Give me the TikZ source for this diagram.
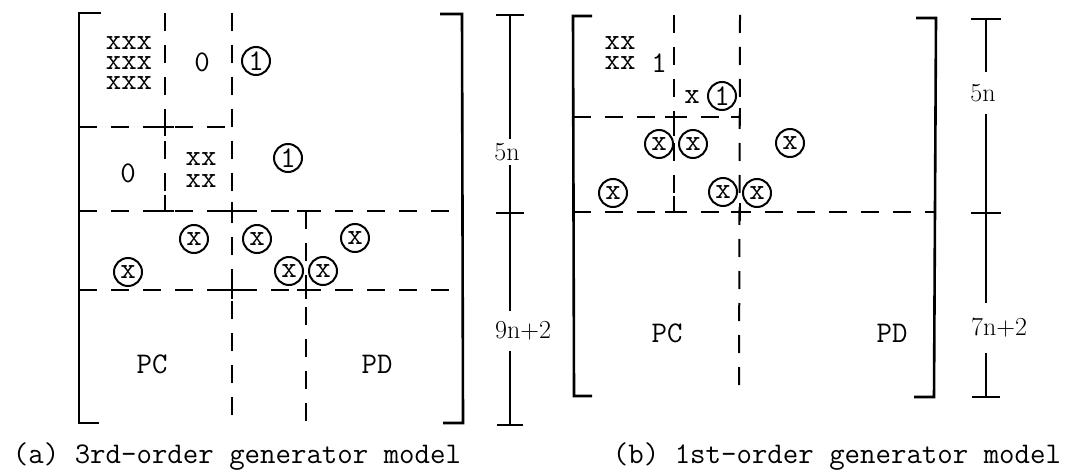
\documentclass[tikz,border=0pt]{standalone}
\usepackage{fontspec}
\usepackage{tikz}
\usetikzlibrary{calc}

\begin{document}
\begin{tikzpicture}[x=1pt,y=-1pt,
		tt/.style={font=\ttfamily\fontsize{30}{36}\selectfont, inner sep=0pt},
		ring/.style={tt, circle, draw, line width=2pt, minimum size=28pt},
		grid/.style={line width=2pt, dash pattern=on 18pt off 14pt},
		bracket/.style={line width=2.6pt},
		dim/.style={line width=2pt},
		dimlab/.style={font=\fontsize{26}{30}\selectfont, inner xsep=0pt}]
		
		\useasboundingbox (0,0) rectangle (1075,473);
		
		% (a) brackets
		\draw[bracket] (101,13) -- (79,13) -- (79,423) -- (99,423);
		\draw[bracket] (440,14) -- (462,14) -- (463,423) -- (443,423);
		
		% (a) partition lines
		\draw[grid] (79,127) -- (233,127);
		\draw[grid] (79,211) -- (462,211);
		\draw[grid] (79,290) -- (462,290);
		\draw[grid] (165,13) -- (165,211);
		\draw[grid] (232,13) -- (232,423);
		\draw[grid] (306,211) -- (306,423);
		
		% (a) solid crossings
		\foreach \p in {(165,127),(232,211),(232,290),(306,290)}
		\draw[dim] \p ++(-9,0) -- ++(18,0) \p ++(0,-9) -- ++(0,18);
		\draw[dim] (165,195) -- (165,211) (156,211) -- (174,211);
		\draw[dim] (306,211) -- (306,228) (297,211) -- (315,211);
		
		% (a) entries
		\foreach \y [count=\i] in {43,63,83}
		\node[tt] (axxx\i) at (129,\y) {xxx};
		\node[tt] (azero) at (202,62) {0};
		\node[ring] (aoneA) at (256,61) {1};
		\node[tt] (azeroB) at (128,173) {0};
		\node[tt] (axx1) at (201,159) {xx};
		\node[tt] (axx2) at (201,181) {xx};
		\node[ring] (aoneB) at (288,158) {1};
		\node[ring] (ax1) at (194,239) {x};
		\node[ring] (ax2) at (257,239) {x};
		\node[ring] (ax3) at (355,238) {x};
		\node[ring] (ax4) at (128,272) {x};
		\node[ring] (ax5) at (289,271) {x};
		\node[ring] (ax6) at (323,271) {x};
		\node[tt] (apc) at (152,364) {PC};
		\node[tt] (apd) at (377,364) {PD};
		
		% (a) dimensions
		\coordinate (atop) at (510,15);
		\coordinate (amid) at (510,213);
		\coordinate (abot) at (510,425);
		\node[dimlab, inner ysep=4pt] (afive) at (507,152) {5n};
		\node[dimlab, inner ysep=10pt] (anine) at (523,331) {9n+2};
		\draw[dim] (atop) ++(-14,0) -- ++(28,0);
		\draw[dim] (amid) ++(-14,0) -- ++(28,0);
		\draw[dim] (abot) ++(-13,0) -- ++(26,0);
		\draw[dim] (atop) -- (atop |- afive.north);
		\draw[dim] (atop |- afive.south) -- (amid) -- (amid |- anine.north);
		\draw[dim] (amid |- anine.south) -- (abot);
		
		\node[tt, anchor=base] (acap) at (237,463) {(a) 3rd-order generator model};
		
		% (b) brackets
		\draw[bracket] (592,16) -- (573,16) -- (574,396) -- (592,396);
		\draw[bracket] (916,18) -- (936,18) -- (934,397) -- (914,397);
		
		% (b) partition lines
		\draw[grid] (573,117) -- (740,117);
		\draw[grid] (573,212) -- (935,212);
		\draw[grid] (674,15) -- (674,212);
		\draw[grid] (740,15) -- (739,396);
		
		% (b) solid crossings
		\draw[dim] (740,203) -- (740,221) (731,212) -- (749,212);
		\draw[dim] (674,117) -- (674,136) (665,117) -- (683,117);
		\draw[dim] (674,196) -- (674,212) (665,212) -- (683,212);
		\draw[dim] (740,108) -- (740,126) (731,117) -- (740,117);
		
		% (b) entries
		\node[tt] (bxx1) at (620,43) {xx};
		\node[tt] (bxx2) at (620,63) {xx};
		\node[tt] (bone) at (659,63) {1};
		\node[tt] (bx) at (692,97) {x};
		\node[ring] (boneA) at (722,96) {1};
		\node[ring] (bx1) at (659,144) {x};
		\node[ring] (bx2) at (693,144) {x};
		\node[ring] (bx3) at (790,143) {x};
		\node[ring] (bx4) at (613,193) {x};
		\node[ring] (bx5) at (723,192) {x};
		\node[ring] (bx6) at (757,193) {x};
		\node[tt] (bpc) at (667,333) {PC};
		\node[tt] (bpd) at (892,333) {PD};
		
		% (b) dimensions
		\coordinate (btop) at (986,19);
		\coordinate (bmid) at (986,213);
		\coordinate (bbot) at (986,397);
		\node[dimlab, inner ysep=12pt] (bfive) at (983,93) {5n};
		\node[dimlab, inner ysep=15pt] (bseven) at (999,328) {7n+2};
		\draw[dim] (btop) ++(-15,0) -- ++(30,0);
		\draw[dim] (bmid) ++(-15,0) -- ++(30,0);
		\draw[dim] (bbot) ++(-14,0) -- ++(28,0);
		\draw[dim] (btop) -- (btop |- bfive.north);
		\draw[dim] (btop |- bfive.south) -- (bmid) -- (bmid |- bseven.north);
		\draw[dim] (bmid |- bseven.south) -- (bbot);
		
		\node[tt, anchor=base] (bcap) at (837,463) {(b) 1st-order generator model};
		
	\end{tikzpicture}
\end{document}
